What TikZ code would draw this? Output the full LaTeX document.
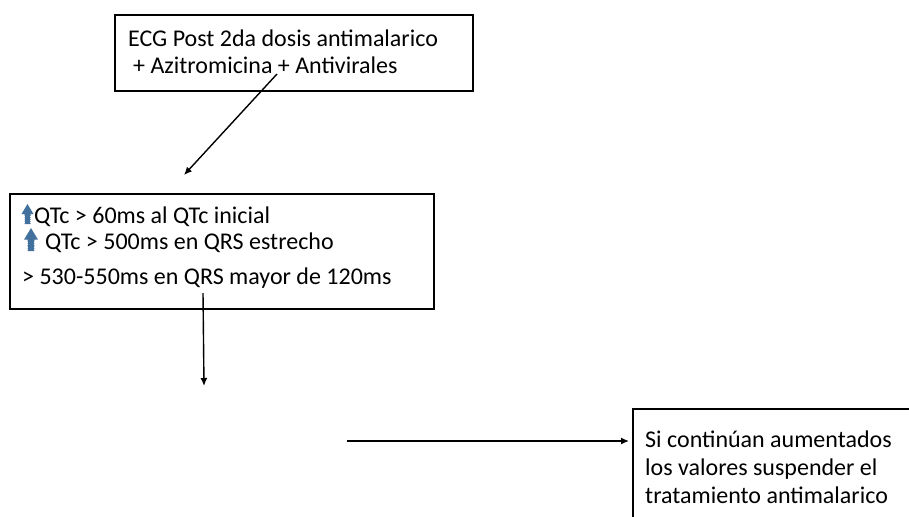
\documentclass[tikz,border=0pt]{standalone}
\usepackage{fontspec}
\setmainfont{Carlito}
\usetikzlibrary{arrows.meta}
\definecolor{iconblue}{HTML}{41719C}
\tikzset{
  boxframe/.style={draw=black, line width=1.6pt, fill=white, inner sep=0pt, anchor=north west},
  txt/.style={anchor=base west, inner sep=0pt, font=\fontsize{24}{28}\selectfont},
  conn/.style={draw=black, line width=1.4pt, -{Latex[length=8pt,width=7pt]}},
  upicon/.pic={
    \fill[iconblue] (-3,0) -- (-3,-10) -- (-6,-10) -- (0,-20) -- (6,-10) -- (3,-10) -- (3,0) -- cycle;
    \foreach \yy in {-1.5,-3.5,-5.5,-7.5}{
      \draw[white, line width=0.5pt] (-3.1,\yy) -- (-2.3,\yy);
      \draw[white, line width=0.5pt] (2.3,\yy) -- (3.1,\yy);
    }
  }
}
\begin{document}
\begin{tikzpicture}[x=1pt,y=-1pt]
\clip (0,0) rectangle (909,516);
\fill[white] (0,0) rectangle (909,516);

% box 1
\node[boxframe, minimum width=358pt, minimum height=76pt] (b1) at (114,14) {};
\node[txt] (t1a) at (128,47) {ECG Post 2da dosis antimalarico};
\node[txt] (t1b) at (133,74) {+ Azitromicina + Antivirales};

% box 2
\node[boxframe, minimum width=424pt, minimum height=115pt] (b2) at (9,193) {};
\pic at (27.5,224) {upicon};
\pic[scale=1.15] at (31,251) {upicon};
\node[txt] (t2a) at (34,223) {QTc > 60ms al QTc inicial};
\node[txt] (t2b) at (45,249) {QTc > 500ms en QRS estrecho};
\node[txt] (t2c) at (22,284) {> 530-550ms en QRS mayor de 120ms};

% box 3 (cut off at right and bottom)
\node[boxframe, minimum width=300pt, minimum height=140pt] (b3) at (632,408) {};
\node[txt] (t3a) at (645,447) {Si continúan aumentados};
\node[txt] (t3b) at (645,475) {los valores suspender el};
\node[txt] (t3c) at (645,503) {tratamiento antimalarico};

% connectors
\coordinate (s1) at (277,74);
\coordinate (e1) at (184,175);
\coordinate (s2) at (203,293);
\coordinate (e2) at (204,386);
\coordinate (s3) at (347,441);
\coordinate (e3) at (b3.west |- s3);
\draw[conn] (s1) -- (e1);
\draw[conn] (s2) -- (e2);
\draw[conn] (s3) -- ([xshift=-3pt]e3);
\end{tikzpicture}
\end{document}
